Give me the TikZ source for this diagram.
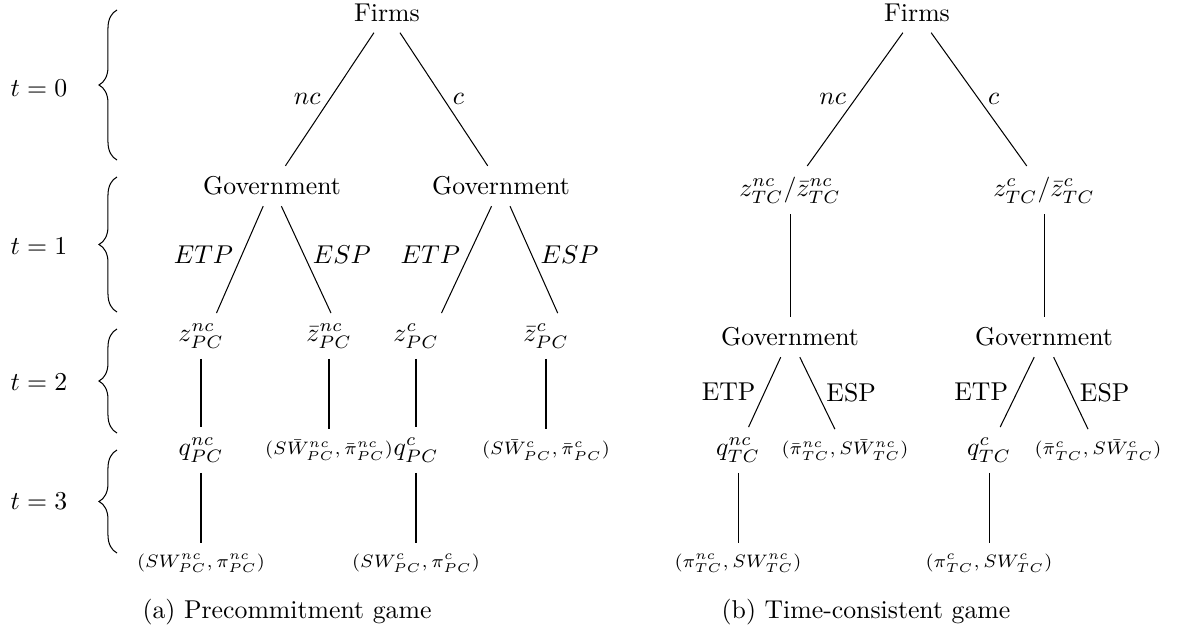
\documentclass[tikz,border=0pt]{standalone}
\usetikzlibrary{decorations.pathreplacing}

\begin{document}
\begin{tikzpicture}[x=0.388pt, y=-0.388pt,
        player/.style={inner sep=4pt},
        payoff/.style={inner sep=4pt, font=\scriptsize},
        period/.style={decorate, decoration={brace, amplitude=7pt}}]
        \useasboundingbox (0,0) rectangle (1196,635);

        % Time periods with braces
        \node (t0) at (39,88) {$t=0$};
        \node (t1) at (39,246) {$t=1$};
        \node (t2) at (39,382) {$t=2$};
        \node (t3) at (39,501) {$t=3$};

        \coordinate (B0_Top) at (117,10);
        \coordinate (B0_Bot) at (117,160);
        \coordinate (B1_Top) at (117,177);
        \coordinate (B1_Bot) at (117,312);
        \coordinate (B2_Top) at (117,329);
        \coordinate (B2_Bot) at (117,433);
        \coordinate (B3_Top) at (117,450);
        \coordinate (B3_Bot) at (117,553);

        \draw [period] (B0_Bot) -- (B0_Top);
        \draw [period] (B1_Bot) -- (B1_Top);
        \draw [period] (B2_Bot) -- (B2_Top);
        \draw [period] (B3_Bot) -- (B3_Top);

        % (a) Precommitment game
        \node [player] (firmsA) at (387,13) {Firms};
        \node [player] (govA1) at (272,186) {Government};
        \node [player] (govA2) at (501,186) {Government};
        \node [player] (zA1) at (201,336) {$z^{nc}_{PC}$};
        \node [player] (zbA1) at (329,336) {$\bar{z}^{nc}_{PC}$};
        \node [player] (zA2) at (416,336) {$z^{c}_{PC}$};
        \node [player] (zbA2) at (546,336) {$\bar{z}^{c}_{PC}$};
        \node [player] (qA1) at (201,450) {$q^{nc}_{PC}$};
        \node [payoff] (pbA1) at (329,450) {$(S\bar{W}^{nc}_{PC},\bar{\pi}^{nc}_{PC})$};
        \node [player] (qA2) at (416,450) {$q^{c}_{PC}$};
        \node [payoff] (pbA2) at (546,450) {$(S\bar{W}^{c}_{PC},\bar{\pi}^{c}_{PC})$};
        \node [payoff] (pA1) at (201,563) {$(SW^{nc}_{PC},\pi^{nc}_{PC})$};
        \node [payoff] (pA2) at (416,563) {$(SW^{c}_{PC},\pi^{c}_{PC})$};

        \draw (firmsA) -- node [left] {$nc$} (govA1);
        \draw (firmsA) -- node [right] {$c$} (govA2);
        \draw (govA1) -- node [pos=0.45, left] {$ETP$} (zA1.56);
        \draw (govA1) -- node [pos=0.45, right] {$ESP$} (zbA1.85);
        \draw (govA2) -- node [pos=0.45, left] {$ETP$} (zA2.42);
        \draw (govA2) -- node [pos=0.45, right] {$ESP$} (zbA2.63);
        \draw (zA1) -- (qA1);
        \draw (zbA1) -- (pbA1);
        \draw (zA2) -- (qA2);
        \draw (zbA2) -- (pbA2);
        \draw (qA1) -- (pA1);
        \draw (qA2) -- (pA2);

        \node (capA) at (287,612) {(a) Precommitment game};

        % (b) Time-consistent game
        \node [player] (firmsB) at (917,13) {Firms};
        \node [player] (zB1) at (790,190) {$z^{nc}_{TC}/\bar{z}^{nc}_{TC}$};
        \node [player] (zB2) at (1044,190) {$z^{c}_{TC}/\bar{z}^{c}_{TC}$};
        \node [player] (govB1) at (790,337) {Government};
        \node [player] (govB2) at (1044,337) {Government};
        \node [player] (qB1) at (738,450) {$q^{nc}_{TC}$};
        \node [payoff] (pbB1) at (845,450) {$(\bar{\pi}^{nc}_{TC},S\bar{W}^{nc}_{TC})$};
        \node [player] (qB2) at (989,450) {$q^{c}_{TC}$};
        \node [payoff] (pbB2) at (1098,450) {$(\bar{\pi}^{c}_{TC},S\bar{W}^{c}_{TC})$};
        \node [payoff] (pB1) at (738,563) {$(\pi^{nc}_{TC},SW^{nc}_{TC})$};
        \node [payoff] (pB2) at (989,563) {$(\pi^{c}_{TC},SW^{c}_{TC})$};

        \draw (firmsB) -- node [left] {$nc$} (zB1);
        \draw (firmsB) -- node [right] {$c$} (zB2);
        \draw (zB1) -- (govB1);
        \draw (zB2) -- (govB2);
        \draw (govB1) -- node [left] {ETP} (qB1);
        \draw (govB1) -- node [right] {ESP} (pbB1);
        \draw (govB2) -- node [left] {ETP} (qB2);
        \draw (govB2) -- node [right] {ESP} (pbB2);
        \draw (qB1) -- (pB1);
        \draw (qB2) -- (pB2);

        \node (capB) at (866,612) {(b) Time-consistent game};
    \end{tikzpicture}
\end{document}
